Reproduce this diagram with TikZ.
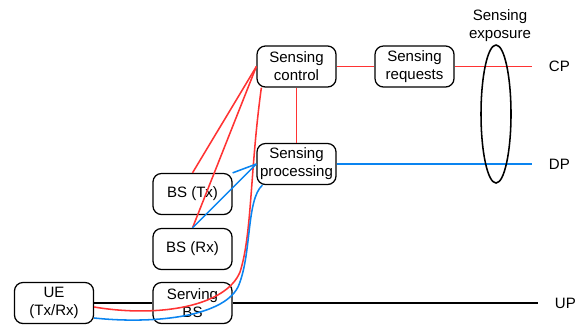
\documentclass[tikz,border=0pt]{standalone}
\usepackage{fontspec}
\setmainfont{Liberation Sans}
\usetikzlibrary{calc}
\definecolor{cpRed}{HTML}{FF3333}
\definecolor{dpBlue}{HTML}{0A84F0}
\tikzset{
 box/.style = {draw, rounded corners=6pt, line width=0.9pt, minimum width=79*0.025cm,
  minimum height=41*0.025cm, inner sep=1pt, align=center},
 cpline/.style = {color=cpRed, line width=1.1pt},
 dpline/.style = {color=dpBlue, line width=1.1pt},
 upline/.style = {color=black, line width=1.1pt}
}
\newcommand{\senseBox}[3]{
    \node[box] (#1) at (#2) {#3};
}
\newcommand{\planeLabel}[3]{
    \coordinate (#1_end) at #2;
    \node[anchor=west] (#1) at ($(#1_end) + (12, 0)$) {#3};
}

\begin{document}
\begin{tikzpicture}[x=0.025cm, y=-0.025cm, font=\fontsize{10.7}{12.8}\selectfont]
    \useasboundingbox (0, 0) rectangle (582, 324);
    \senseBox{ue}{54, 303}{UE\\(Tx/Rx)}
    \senseBox{servbs}{192.5, 303}{Serving\\BS}
    \senseBox{bstx}{192.5, 194}{BS (Tx)}
    \senseBox{bsrx}{192.5, 249}{BS (Rx)}
    \senseBox{sctrl}{296.5, 66.5}{Sensing\\control}
    \senseBox{sproc}{296.5, 164}{Sensing\\processing}
    \senseBox{sreq}{414.5, 66.5}{Sensing\\requests}

    \planeLabel{cp}{(532, 66.5)}{CP}
    \planeLabel{dp}{(532, 164)}{DP}
    \planeLabel{up}{(538, 303)}{UP}

    \draw[cpline] (sctrl) -- (sreq);
    \draw[cpline] (sreq) -- (cp_end);
    \draw[cpline] (sctrl) -- (sproc);
    \draw[cpline] (sctrl.west) -- (bstx.north);
    \draw[cpline] (sctrl.west) -- (bsrx.north);
    \draw[cpline] ($(sctrl.south west) + (5, 0)$) .. controls (250, 170) and (252, 235) .. (240, 272)
        .. controls (226, 306) and (160, 318) .. ($(ue.east) + (0, 4)$);

    \draw[dpline] (sproc) -- (dp_end);
    \draw[dpline] (sproc.west) -- (bstx.north east);
    \draw[dpline] (sproc.west) -- (bsrx.north);
    \draw[dpline] ($(sproc.south west) + (6, 0)$) .. controls (246, 200) and (252, 255) .. (238, 287)
        .. controls (222, 318) and (150, 324) .. ($(ue.east) + (0, 15)$);

    \draw[upline] (ue) -- (servbs);
    \draw[upline] (servbs) -- (up_end);

    \draw[line width=1.1pt] (496, 114) ellipse [x radius=15, y radius=69];
    \node[align=center] (expo) at (500, 26) {Sensing\\exposure};
\end{tikzpicture}
\end{document}
